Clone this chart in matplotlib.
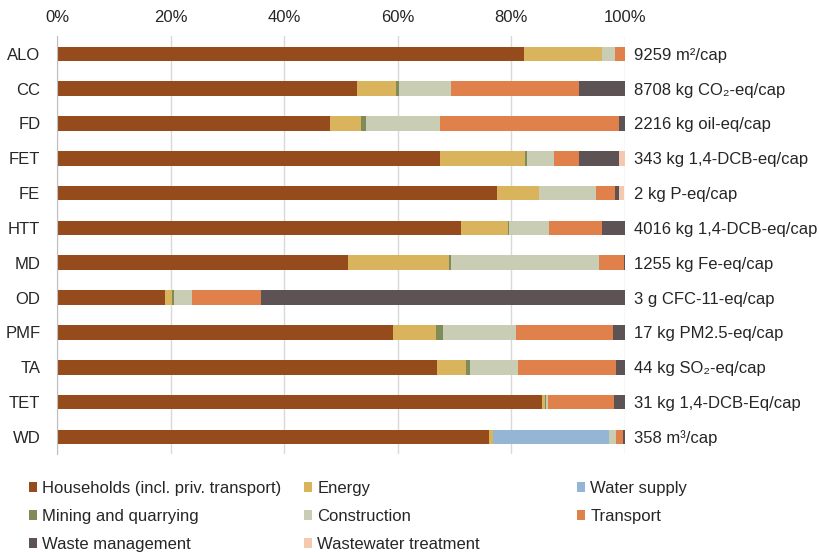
import matplotlib.pyplot as plt
import numpy as np
from matplotlib.patches import Patch
from matplotlib.transforms import blended_transform_factory

plt.rcParams['font.family'] = ['Liberation Sans', 'DejaVu Sans']

# impact categories, top to bottom
categories = ['ALO', 'CC', 'FD', 'FET', 'FE', 'HTT', 'MD', 'OD', 'PMF', 'TA', 'TET', 'WD']
totals = ['9259 m²/cap', '8708 kg CO₂-eq/cap', '2216 kg oil-eq/cap',
          '343 kg 1,4-DCB-eq/cap', '2 kg P-eq/cap', '4016 kg 1,4-DCB-eq/cap',
          '1255 kg Fe-eq/cap', '3 g CFC-11-eq/cap', '17 kg PM2.5-eq/cap',
          '44 kg SO₂-eq/cap', '31 kg 1,4-DCB-Eq/cap', '358 m³/cap']

# share of each sector (%)
households   = [82.3, 52.9, 48.0, 67.5, 77.4, 71.2, 51.2, 19.0, 59.2, 67.0, 85.4, 76.1]
energy       = [13.6, 6.8, 5.6, 15.0, 7.4, 8.2, 17.8, 1.3, 7.6, 5.0, 0.6, 0.6]
water_supply = [0.0, 0.0, 0.0, 0.0, 0.0, 0.0, 0.0, 0.0, 0.0, 0.0, 0.0, 20.5]
mining       = [0.0, 0.6, 0.9, 0.3, 0.15, 0.2, 0.3, 0.3, 1.1, 0.8, 0.1, 0.0]
construction = [2.4, 9.1, 13.0, 4.8, 10.0, 7.0, 26.2, 3.2, 12.9, 8.3, 0.4, 1.2]
transport    = [1.7, 22.6, 31.4, 4.4, 3.4, 9.4, 4.3, 12.1, 17.1, 17.3, 11.6, 1.3]
waste        = [0.0, 8.0, 1.1, 6.9, 0.55, 4.0, 0.2, 64.1, 2.1, 1.6, 1.9, 0.3]
wastewater   = [0.0, 0.0, 0.0, 1.1, 1.0, 0.0, 0.0, 0.0, 0.0, 0.0, 0.0, 0.0]

series = [
    ('Households (incl. priv. transport)', households, '#964B1D'),
    ('Energy', energy, '#DAB35D'),
    ('Water supply', water_supply, '#94B5D3'),
    ('Mining and quarrying', mining, '#7F8C5A'),
    ('Construction', construction, '#C9CDB3'),
    ('Transport', transport, '#E0804A'),
    ('Waste management', waste, '#5D5354'),
    ('Wastewater treatment', wastewater, '#F5C9B0'),
]

fs = 12
fig = plt.figure(figsize=(8.2, 5.52), dpi=100)
ax = fig.add_axes([0.0695, 0.177, 0.6925, 0.757])

y = np.arange(len(categories))
left = np.zeros(len(categories))
handles = []
for name, vals, col in series:
    vals = np.array(vals)
    ax.barh(y, vals, left=left, height=0.42, color=col, edgecolor='none', zorder=3)
    left += vals
    handles.append(Patch(facecolor=col, edgecolor='none', label=name))

ax.set_xlim(0, 100)
ax.set_ylim(len(categories) - 0.5, -0.5)
ax.set_xticks(np.arange(0, 101, 20))
ax.set_xticklabels([f'{v}%' for v in range(0, 101, 20)])
ax.xaxis.tick_top()
ax.set_yticks(y)
ax.set_yticklabels(categories)
ax.tick_params(axis='both', length=0, labelsize=fs, colors='#262626')
ax.tick_params(axis='x', pad=8)
ax.tick_params(axis='y', pad=12)
ax.grid(axis='x', color='#D9D9D9', linewidth=1, zorder=0)
for s in ['top', 'right', 'bottom']:
    ax.spines[s].set_visible(False)
ax.spines['left'].set_color('#BFBFBF')
ax.spines['left'].set_zorder(4)

trans = blended_transform_factory(ax.transAxes, ax.transData)
for yi, txt in zip(y, totals):
    ax.text(1.017, yi, txt, transform=trans, va='center_baseline', ha='left',
            fontsize=fs, color='#262626')

# legend laid out as three equal-width columns
xs = [29, 304, 577]
for c in range(3):
    fig.legend(handles=handles[c::3], loc='upper left',
               bbox_to_anchor=(xs[c] / 820, 1 - 481 / 552),
               frameon=False, fontsize=fs, handlelength=0.5, handleheight=0.5,
               handletextpad=0.3, labelspacing=0.78, borderpad=0, borderaxespad=0,
               labelcolor='#262626')

fig.savefig('out.png', dpi=100)
